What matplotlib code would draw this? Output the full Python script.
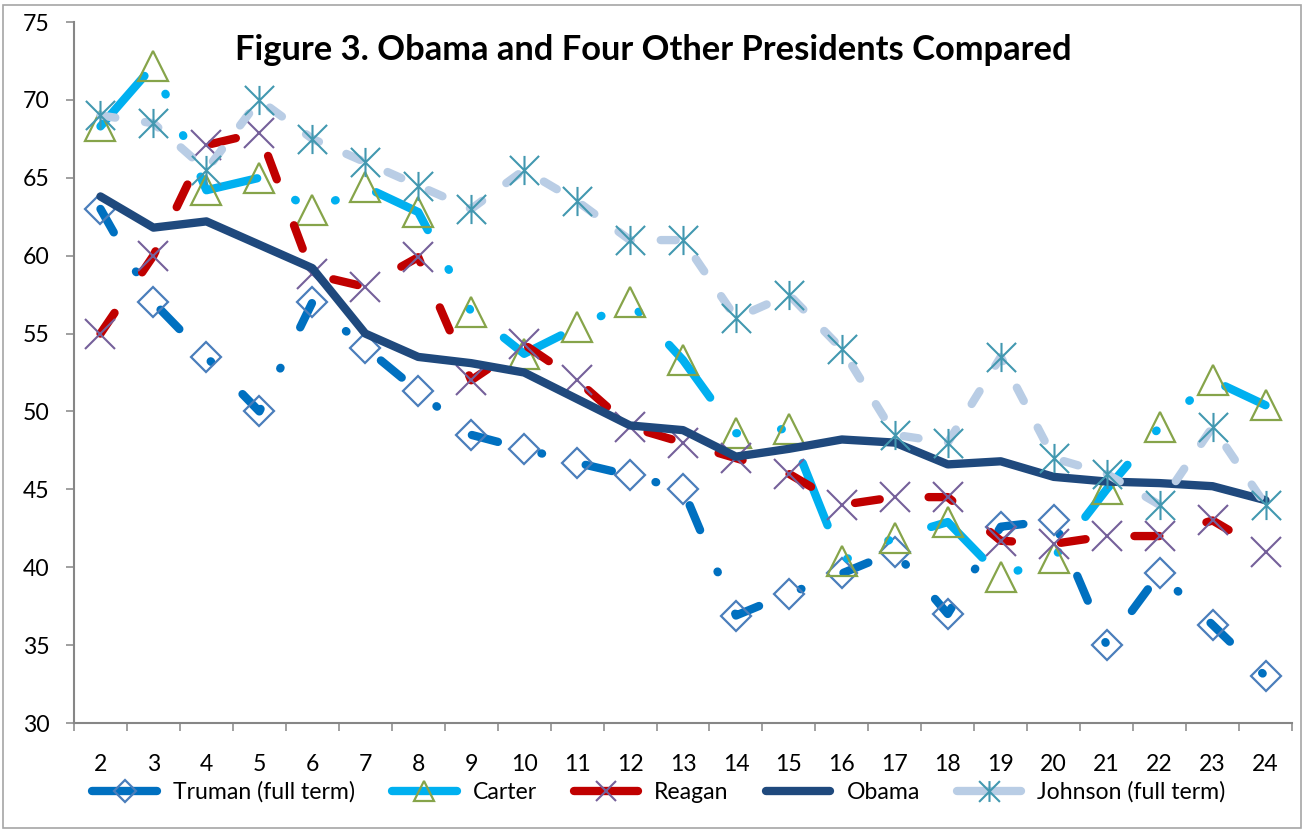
import matplotlib
matplotlib.use('Agg')
import matplotlib.pyplot as plt
from matplotlib.lines import Line2D
from matplotlib.path import Path
from matplotlib.patches import Rectangle

plt.rcParams['lines.scale_dashes'] = False
plt.rcParams['font.family'] = ['Lato', 'DejaVu Sans']

# dane (tydzien 2..24)
weeks = list(range(2, 25))
truman = [63.0, 57.0, 53.5, 50.0, 57.0, 54.1, 51.3, 48.5, 47.6, 46.7, 45.9, 45.0,
          36.9, 38.3, 39.6, 41.0, 37.0, 42.6, 43.0, 35.0, 39.6, 36.3, 33.0]
carter = [68.3, 72.2, 64.2, 65.0, 62.9, 64.4, 62.8, 56.4, 53.7, 55.4, 57.0, 53.3,
          48.6, 48.9, 40.4, 41.9, 42.9, 39.4, 40.6, 45.0, 49.0, 52.0, 50.4]
reagan = [55.0, 60.0, 67.1, 67.9, 58.8, 58.0, 59.9, 52.0, 54.3, 52.0, 49.0, 48.0,
          47.0, 46.0, 44.0, 44.5, 44.5, 41.7, 41.5, 42.0, 42.0, 43.0, 41.0]
obama = [63.8, 61.8, 62.2, 60.7, 59.2, 55.0, 53.5, 53.1, 52.5, 50.8, 49.1, 48.8,
         47.1, 47.6, 48.2, 48.0, 46.6, 46.8, 45.8, 45.5, 45.4, 45.2, 44.3]
johnson = [69.0, 68.5, 65.5, 70.0, 67.5, 66.0, 64.5, 63.0, 65.5, 63.5, 61.0, 61.0,
           56.0, 57.5, 54.0, 48.5, 48.0, 53.5, 47.0, 46.0, 44.0, 49.0, 44.0]
labels = ['Truman (full term)', 'Carter', 'Reagan', 'Obama', 'Johnson (full term)']
title = 'Figure 3. Obama and Four Other Presidents Compared'

# gwiazdka jak w excelu: X + pionowa kreska
star = Path([(0, -1), (0, 1), (-1, -1), (1, 1), (-1, 1), (1, -1)],
            [Path.MOVETO, Path.LINETO, Path.MOVETO, Path.LINETO, Path.MOVETO, Path.LINETO])

W, H = 1307, 831
fig = plt.figure(figsize=(W / 100, H / 100), dpi=100)
ax = fig.add_axes([74 / W, 1 - 723 / H, (1292 - 74) / W, (723 - 22) / H])

common = dict(dash_capstyle='round', dash_joinstyle='round',
              solid_capstyle='round', solid_joinstyle='round', mfc='none')

ax.plot(weeks, truman, color='#0070C0', lw=6, dashes=(19.4, 32.4, 0.5, 32.4),
        marker='D', ms=15, mec='#4A7EBB', mew=1.6, **common)
ax.plot(weeks, carter, color='#00B0F0', lw=6,
        dashes=(48.2, 31.9, 0.5, 31.9, 0.5, 31.9),
        marker='^', ms=21, mec='#86A44A', mew=1.6, **common)
ax.plot(weeks, reagan, color='#C00000', lw=6, dashes=(18, 35.3),
        marker='x', ms=21, mec='#75609A', mew=1.5, **common)
ax.plot(weeks, obama, color='#1F497D', lw=6, marker=None, **common)
ax.plot(weeks, johnson, color='#B9CDE5', lw=6, dashes=(10.8, 21.6),
        marker=star, ms=21, mec='#4298B0', mew=1.5, **common)

# osie
ax.set_xlim(1.5, 24.5)
ax.set_ylim(30, 75)
ax.set_yticks(range(30, 80, 5))
ax.set_xticks(weeks)
ax.set_xticks([w - 0.5 for w in weeks] + [24.5], minor=True)
ax.tick_params(axis='x', which='major', length=0, pad=22, labelsize=16.6)
ax.tick_params(axis='x', which='minor', length=5.8, width=1.1, color='#868686')
ax.tick_params(axis='y', length=5.8, width=1.1, color='#868686', pad=12, labelsize=16.6)
for side in ['top', 'right']:
    ax.spines[side].set_visible(False)
for side in ['left', 'bottom']:
    ax.spines[side].set_color('#868686')
    ax.spines[side].set_linewidth(1.5)

fig.text(0.5, 1 - 50 / H, title, ha='center', va='center', fontsize=24.8, fontweight='bold')

# legenda z pelnymi liniami jak w excelu
handles = [
    Line2D([], [], color='#0070C0', lw=6, solid_capstyle='round', marker='D', ms=11,
           mfc='none', mec='#4A7EBB', mew=1.6),
    Line2D([], [], color='#00B0F0', lw=6, solid_capstyle='round', marker='^', ms=15,
           mfc='none', mec='#86A44A', mew=1.6),
    Line2D([], [], color='#C00000', lw=6, solid_capstyle='round', marker='x', ms=15,
           mec='#75609A', mew=1.5),
    Line2D([], [], color='#1F497D', lw=6, solid_capstyle='round'),
    Line2D([], [], color='#B9CDE5', lw=6, solid_capstyle='round', marker=star, ms=15,
           mec='#4298B0', mew=1.5),
]
fig.legend(handles, labels, loc='center', bbox_to_anchor=(659 / W, 1 - 792 / H), ncol=5,
           frameon=False, fontsize=16.6, handlelength=2.8, handletextpad=0.7,
           columnspacing=1.6, borderpad=0)

# ramka wokol wykresu
fig.patches.append(Rectangle((3 / W, 3 / H), 1298 / W, 823 / H, transform=fig.transFigure,
                             fill=False, ec='#A6A6A6', lw=1.2))

fig.savefig('out.png', dpi=100)
